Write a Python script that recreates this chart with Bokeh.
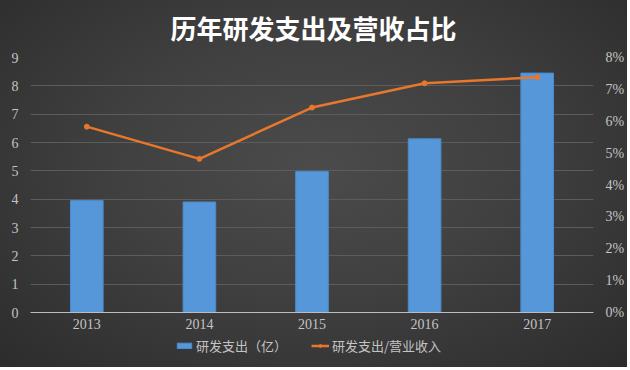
from bokeh.plotting import figure
from bokeh.layouts import column
from bokeh.models import (Range1d, LinearAxis, NumeralTickFormatter, Legend, LegendItem,
                          FactorRange, FixedTicker, InlineStyleSheet, Label)
from bokeh.embed import file_html
from bokeh.resources import INLINE

title_text = "历年研发支出及营收占比"
years = ["2013", "2014", "2015", "2016", "2017"]
rd_spend = [3.95, 3.9, 4.98, 6.13, 8.45]          # 研发支出（亿）
rd_ratio = [0.0583, 0.0482, 0.0643, 0.0719, 0.0738]  # 研发支出/营业收入
left_ticks = [0, 1, 2, 3, 4, 5, 6, 7, 8, 9]
right_ticks = [0, 0.01, 0.02, 0.03, 0.04, 0.05, 0.06, 0.07, 0.08]
legend_labels = ["研发支出（亿）", "研发支出/营业收入"]

TXT = "#c4c4c4"
SERIF = "Liberation Serif"
CJK = "Noto Sans CJK SC"
BAR = "#5597d8"
BAR_EDGE = "#4b8bcc"
ORANGE = "#e8772e"


def strip(height, x_range=None, y_range=None, **kw):
    f = figure(width=622, height=height,
               x_range=x_range if x_range is not None else Range1d(0, 1),
               y_range=y_range if y_range is not None else Range1d(0, 1),
               output_backend="svg", toolbar_location=None, x_axis_type=None,
               y_axis_type=None, min_border=0, **kw)
    f.background_fill_alpha = 0
    f.border_fill_alpha = 0
    f.outline_line_color = None
    f.grid.visible = False
    return f


# title strip (its frame is aligned with the chart frame, which starts 30px in)
t = strip(46)
t.add_layout(Label(x=283, y=19, x_units="screen", y_units="screen", text=title_text,
                   text_align="center", text_baseline="middle", text_color="#ffffff",
                   text_font=CJK, text_font_size="26px", text_font_style="bold"))

# main chart
p = figure(frame_width=563, frame_height=255, x_range=FactorRange(*years), y_range=Range1d(0, 9),
           output_backend="svg", toolbar_location=None,
           min_border_left=30, min_border_right=29, min_border_top=11, min_border_bottom=0)
p.background_fill_alpha = 0
p.border_fill_alpha = 0
p.outline_line_color = None

p.extra_y_ranges = {"pct": Range1d(0, 0.08)}

p.vbar(x=years, top=rd_spend, width=0.29, fill_color=BAR, line_color=BAR_EDGE, line_width=1)
p.line(x=years, y=rd_ratio, y_range_name="pct", line_color=ORANGE, line_width=2.5)
p.scatter(x=years, y=rd_ratio, y_range_name="pct", size=5, fill_color=ORANGE, line_color=ORANGE)

p.xgrid.grid_line_color = None
p.ygrid.grid_line_color = "#5c5c5c"
p.ygrid.grid_line_width = 1
p.ygrid.ticker = FixedTicker(ticks=left_ticks)


def style_axis(ax, standoff):
    ax.major_tick_line_color = None
    ax.minor_tick_line_color = None
    ax.major_tick_out = 0
    ax.major_tick_in = 0
    ax.minor_tick_out = 0
    ax.minor_tick_in = 0
    ax.major_label_text_color = TXT
    ax.major_label_text_font = SERIF
    ax.major_label_text_font_size = "14px"
    ax.major_label_standoff = standoff


ya = p.yaxis[0]
ya.ticker = FixedTicker(ticks=left_ticks)
ya.axis_line_color = None
style_axis(ya, 12)

ra = LinearAxis(y_range_name="pct", ticker=FixedTicker(ticks=right_ticks),
                formatter=NumeralTickFormatter(format="0%"))
ra.axis_line_color = None
style_axis(ra, 12)
p.add_layout(ra, "right")

xa = p.xaxis[0]
xa.axis_line_color = "#bdbdbd"
xa.axis_line_width = 1.2
style_axis(xa, 6)

# legend strip; its renderers use the same data but lie outside the strip's visible range
q = strip(36, x_range=FactorRange(*years), y_range=Range1d(100, 101),
          extra_y_ranges={"pct": Range1d(100, 101)})
lb = q.vbar(x=years, top=rd_spend, width=0.29, fill_color=BAR, line_color=BAR_EDGE)
ll = q.line(x=years, y=rd_ratio, y_range_name="pct", line_color=ORANGE, line_width=2.5)
lp = q.scatter(x=years, y=rd_ratio, y_range_name="pct", size=5, fill_color=ORANGE, line_color=ORANGE)

legend = Legend(items=[LegendItem(label=legend_labels[0], renderers=[lb]),
                       LegendItem(label=legend_labels[1], renderers=[ll, lp])],
                orientation="horizontal", location=(145, 12))
legend.background_fill_alpha = 0
legend.border_line_color = None
legend.label_text_color = TXT
legend.label_text_font = CJK
legend.label_text_font_size = "13px"
legend.label_height = 14
legend.glyph_width = 18
legend.glyph_height = 7
legend.spacing = 24
legend.margin = 0
legend.padding = 3
legend.label_standoff = 3
q.add_layout(legend, "center")

layout = column(t, p, q, spacing=0)
layout.stylesheets = [InlineStyleSheet(css=":host { background: radial-gradient(ellipse at 50% 45%, #4b4b4b 0%, #404040 45%, #2c2c2c 100%); }")]

open("out.html", "w").write(file_html(layout, INLINE))
